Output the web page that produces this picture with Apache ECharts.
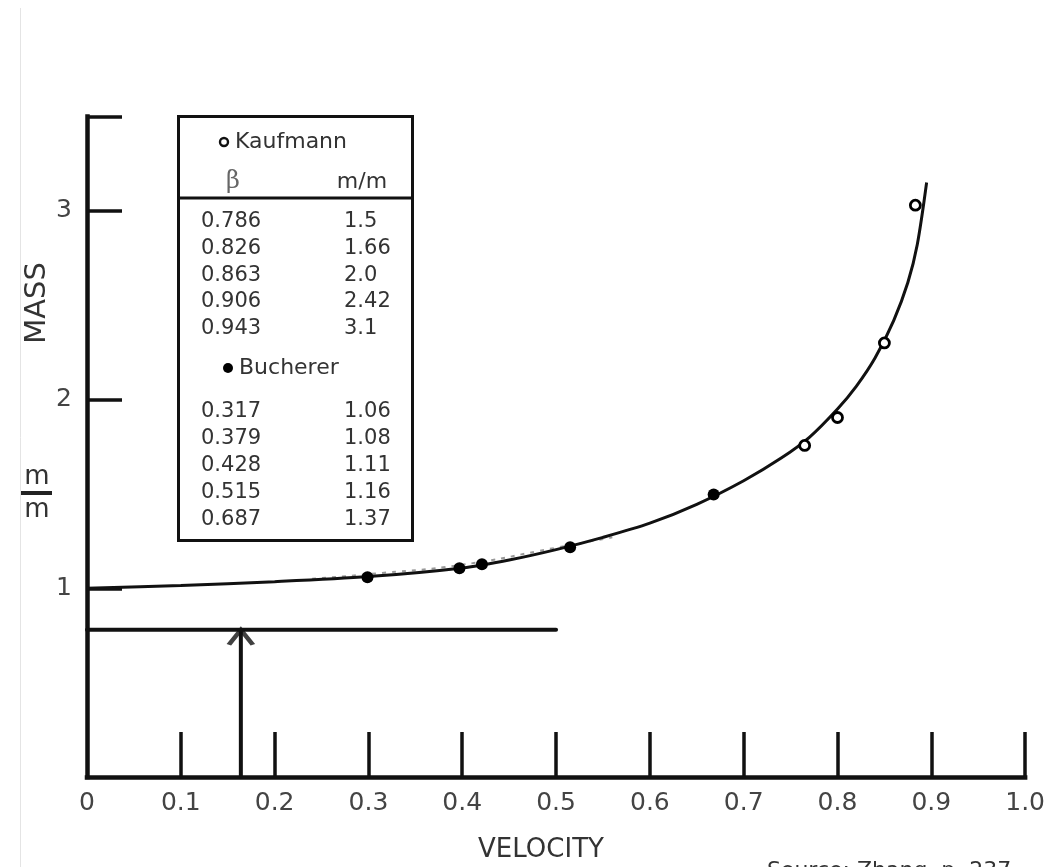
<!DOCTYPE html>
<html><head><meta charset="utf-8">
<script src="https://cdn.jsdelivr.net/npm/echarts@6/dist/echarts.min.js"></script>
<style>html,body{margin:0;padding:0;background:#fff}#c{width:1048px;height:867px}</style>
</head><body><div id="c"></div>
<script>
// ---- data ----
const curveX = [0, 0.1, 0.2, 0.3, 0.4, 0.45, 0.5, 0.55, 0.6, 0.65, 0.7, 0.74, 0.77, 0.8, 0.82, 0.84, 0.86, 0.875, 0.885, 0.895];
const curveY = [1.0, 1.015, 1.035, 1.062, 1.108, 1.15, 1.205, 1.27, 1.345, 1.445, 1.57, 1.69, 1.8, 1.95, 2.07, 2.22, 2.42, 2.62, 2.82, 3.15];
const kaufmannX = [0.765, 0.800, 0.850, 0.883];
const kaufmannY = [1.757, 1.905, 2.30, 3.03];
const buchererX = [0.299, 0.397, 0.421, 0.515, 0.668];
const buchererY = [1.058, 1.106, 1.127, 1.217, 1.497];
const bandX = [0.24, 0.30, 0.40, 0.50, 0.56];
const bandY = [1.05, 1.075, 1.125, 1.215, 1.27];
const refLineY = 0.78;
const refLineX = [0, 0.5];
const arrowX = 0.164;
const xTicks = [0.1, 0.2, 0.3, 0.4, 0.5, 0.6, 0.7, 0.8, 0.9, 1.0];
const xTickLabels = ['0', '0.1', '0.2', '0.3', '0.4', '0.5', '0.6', '0.7', '0.8', '0.9', '1.0'];
const yTicks = [1, 2, 3, 3.5];
const yTickLabels = [1, 2, 3];
// table contents
const kaufTableBeta = ['0.786', '0.826', '0.863', '0.906', '0.943'];
const kaufTableMass = ['1.5', '1.66', '2.0', '2.42', '3.1'];
const buchTableBeta = ['0.317', '0.379', '0.428', '0.515', '0.687'];
const buchTableMass = ['1.06', '1.08', '1.11', '1.16', '1.37'];

const zip = (a, b) => a.map((v, i) => [v, b[i]]);
const FONT = 'DejaVu Sans';
const INK = '#111';
const TXT = '#333';

const graphics = [];
// faint border line at left
graphics.push({ type: 'line', shape: { x1: 20.5, y1: 8, x2: 20.5, y2: 867 }, style: { stroke: '#e4e4e4', lineWidth: 1 }, silent: true });
// legend table box
graphics.push({ type: 'rect', shape: { x: 178.5, y: 116.5, width: 234, height: 424 }, style: { fill: '#fff', stroke: INK, lineWidth: 3 }, z: 10 });
graphics.push({ type: 'line', shape: { x1: 178.5, y1: 198, x2: 412.5, y2: 198 }, style: { stroke: INK, lineWidth: 3 }, z: 11 });
graphics.push({ type: 'circle', shape: { cx: 224, cy: 142, r: 4 }, style: { fill: '#fff', stroke: '#111', lineWidth: 2.4 }, z: 11 });
graphics.push({ type: 'text', x: 235, y: 142, style: { text: 'Kaufmann', font: '22px "' + FONT + '"', fill: TXT, verticalAlign: 'middle' }, z: 11 });
graphics.push({ type: 'text', x: 233, y: 182, style: { text: 'β', font: '24px "DejaVu Serif"', fill: '#666', align: 'center', verticalAlign: 'middle' }, z: 11 });
graphics.push({ type: 'text', x: 362, y: 182, style: { text: 'm/m', font: '22px "' + FONT + '"', fill: TXT, align: 'center', verticalAlign: 'middle' }, z: 11 });
kaufTableBeta.forEach((b, i) => {
  const y = 222 + i * 26.6;
  graphics.push({ type: 'text', x: 201, y, style: { text: b, font: '21px "' + FONT + '"', fill: TXT, verticalAlign: 'middle' }, z: 11 });
  graphics.push({ type: 'text', x: 344, y, style: { text: kaufTableMass[i], font: '21px "' + FONT + '"', fill: TXT, verticalAlign: 'middle' }, z: 11 });
});
graphics.push({ type: 'circle', shape: { cx: 228, cy: 368, r: 5 }, style: { fill: '#000' }, z: 11 });
graphics.push({ type: 'text', x: 239, y: 368, style: { text: 'Bucherer', font: '22px "' + FONT + '"', fill: TXT, verticalAlign: 'middle' }, z: 11 });
buchTableBeta.forEach((b, i) => {
  const y = 412 + i * 27;
  graphics.push({ type: 'text', x: 201, y, style: { text: b, font: '21px "' + FONT + '"', fill: TXT, verticalAlign: 'middle' }, z: 11 });
  graphics.push({ type: 'text', x: 344, y, style: { text: buchTableMass[i], font: '21px "' + FONT + '"', fill: TXT, verticalAlign: 'middle' }, z: 11 });
});
// axis titles
graphics.push({ type: 'text', x: 37, y: 303, rotation: Math.PI / 2, style: { text: 'MASS', font: '29px "' + FONT + '"', fill: TXT, align: 'center', verticalAlign: 'middle' } });
graphics.push({ type: 'text', x: 37, y: 477, style: { text: 'm', font: '26px "' + FONT + '"', fill: TXT, align: 'center', verticalAlign: 'middle' } });
graphics.push({ type: 'rect', shape: { x: 21, y: 491, width: 31, height: 4 }, style: { fill: '#222' } });
graphics.push({ type: 'text', x: 37, y: 510, style: { text: 'm', font: '26px "' + FONT + '"', fill: TXT, align: 'center', verticalAlign: 'middle' } });
graphics.push({ type: 'text', x: 541, y: 850, style: { text: 'VELOCITY', font: '26px "' + FONT + '"', fill: TXT, align: 'center', verticalAlign: 'middle' } });
graphics.push({ type: 'text', x: 767, y: 860, style: { text: 'Source: Zhang, p. 237', font: '22px "' + FONT + '"', fill: TXT, verticalAlign: 'top' } });

const chart = echarts.init(document.getElementById('c'), null, { renderer: 'canvas' });
chart.setOption({
  animation: false,
  backgroundColor: '#fff',
  grid: { left: 87, right: 20, top: 116.5, bottom: 90, containLabel: false },
  xAxis: {
    type: 'value', min: 0, max: 1, interval: 0.1,
    axisLine: { show: true, lineStyle: { color: INK, width: 4.5, cap: 'square' } },
    axisTick: { show: true, inside: true, length: 45, customValues: xTicks, lineStyle: { color: INK, width: 3.5 } },
    axisLabel: {
      fontFamily: FONT, fontSize: 25, color: '#444', margin: 14, showMaxLabel: true, showMinLabel: true,
      formatter: v => xTickLabels[Math.round(v * 10)]
    },
    splitLine: { show: false }
  },
  yAxis: {
    type: 'value', min: 0, max: 3.5, interval: 0.5,
    axisLine: { show: true, lineStyle: { color: INK, width: 4.5, cap: 'square' } },
    axisTick: { show: true, inside: true, length: 35, customValues: yTicks, lineStyle: { color: INK, width: 3.5 } },
    axisLabel: { fontFamily: FONT, fontSize: 25, color: '#444', margin: 15, customValues: yTickLabels, formatter: v => String(v) },
    splitLine: { show: false }
  },
  series: [
    { type: 'line', data: zip(bandX, bandY), symbol: 'none', smooth: true, z: 2,
      lineStyle: { color: '#9a9a9a', width: 2, type: [4, 6] } },
    { type: 'line', data: zip(curveX, curveY), symbol: 'none', smooth: 0.3, z: 3,
      lineStyle: { color: INK, width: 3 } },
    { type: 'line', data: refLineX.map(x => [x, refLineY]), symbol: 'none', z: 3,
      lineStyle: { color: INK, width: 4, cap: 'round' } },
    { type: 'line', data: [[arrowX, 0], [arrowX, refLineY]], symbol: 'none', z: 3,
      lineStyle: { color: INK, width: 4 } },
    { type: 'scatter', data: [[arrowX, refLineY]], symbol: 'path://M0,17 L13.5,0 L27,17', symbolSize: [24, 15],
      symbolOffset: [0, 7.5], z: 4, itemStyle: { color: 'none', borderColor: INK, borderWidth: 4 } },
    { type: 'scatter', data: zip(buchererX, buchererY), symbol: 'circle', symbolSize: 12, z: 5,
      itemStyle: { color: '#000', opacity: 1 } },
    { type: 'scatter', data: zip(kaufmannX, kaufmannY), symbol: 'circle', symbolSize: 10, z: 5,
      itemStyle: { color: '#fff', borderColor: '#000', borderWidth: 2.8, opacity: 1 } }
  ],
  graphic: graphics
});
</script>
</body></html>
